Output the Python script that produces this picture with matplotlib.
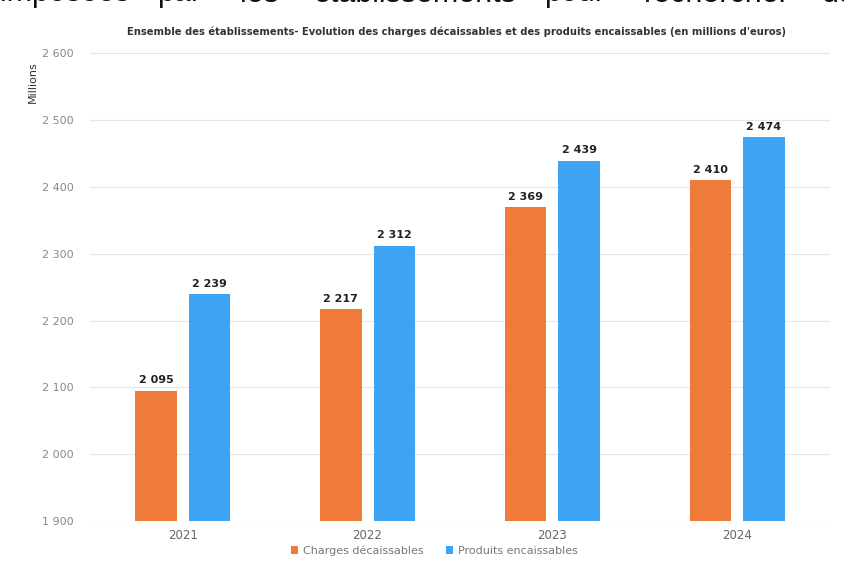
import matplotlib.pyplot as plt
import numpy as np

years = ['2021', '2022', '2023', '2024']
charges = [2095, 2217, 2369, 2410]
produits = [2239, 2312, 2439, 2474]
yticks = [1900, 2000, 2100, 2200, 2300, 2400, 2500, 2600]

# bits of the scanned page text cut at the top
top_words = ['imposées', 'par', 'les', 'établissements', 'pour', 'rechercher', 'des']
top_x = [0, 157, 240, 314, 544, 644, 822]

orange = '#EF7B3B'
blue = '#3EA3F2'

fig = plt.figure(figsize=(8.44, 5.64), dpi=100)
ax = fig.add_axes([0.107, 0.076, 0.876, 0.830])

x = np.arange(len(years))
w = 0.225
ax.bar(x - 0.145, np.array(charges) - 1900, w, bottom=1900, color=orange, label='Charges décaissables', zorder=3)
ax.bar(x + 0.145, np.array(produits) - 1900, w, bottom=1900, color=blue, label='Produits encaissables', zorder=3)

def fmt(v):
    return f'{v:,}'.replace(',', ' ')

for i in range(len(years)):
    ax.text(x[i] - 0.145, charges[i] + 8, fmt(charges[i]), ha='center', va='bottom',
            fontsize=8, fontweight='bold', color='#222222')
    ax.text(x[i] + 0.145, produits[i] + 8, fmt(produits[i]), ha='center', va='bottom',
            fontsize=8, fontweight='bold', color='#222222')

ax.set_xlim(-0.5, 3.5)
ax.set_ylim(1900, 2600)
ax.set_yticks(yticks)
ax.set_yticklabels([fmt(v) for v in yticks], fontsize=8, color='#888888')
ax.set_xticks(x)
ax.set_xticklabels(years, fontsize=8.5, color='#666666')
ax.tick_params(length=0, pad=12)
ax.tick_params(axis='x', pad=6)
ax.grid(axis='y', color='#E6E6E6', linewidth=0.8, zorder=0)
for s in ax.spines.values():
    s.set_visible(False)

fig.text(0.039, 0.855, 'Millions', rotation=90, ha='center', va='center', fontsize=8, color='#333333')
fig.text(0.541, 0.943, "Ensemble des établissements- Evolution des charges décaissables et des produits encaissables (en millions d'euros)",
         ha='center', va='center', fontsize=7.2, color='#333333',
         family=['Liberation Sans Narrow', 'DejaVu Sans'], fontweight='bold')

for wd, px in zip(top_words, top_x):
    fig.text(px / 844, 1 - 1.5 / 564, wd, ha='left', va='baseline', fontsize=22, color='#111111',
             family='Liberation Sans')

ax.legend(loc='upper center', bbox_to_anchor=(0.465, -0.03), ncol=2, frameon=False,
          fontsize=8, handlelength=0.7, handleheight=0.7, columnspacing=2.0, handletextpad=0.4,
          labelcolor='#777777')

fig.savefig('out.png', dpi=100)
